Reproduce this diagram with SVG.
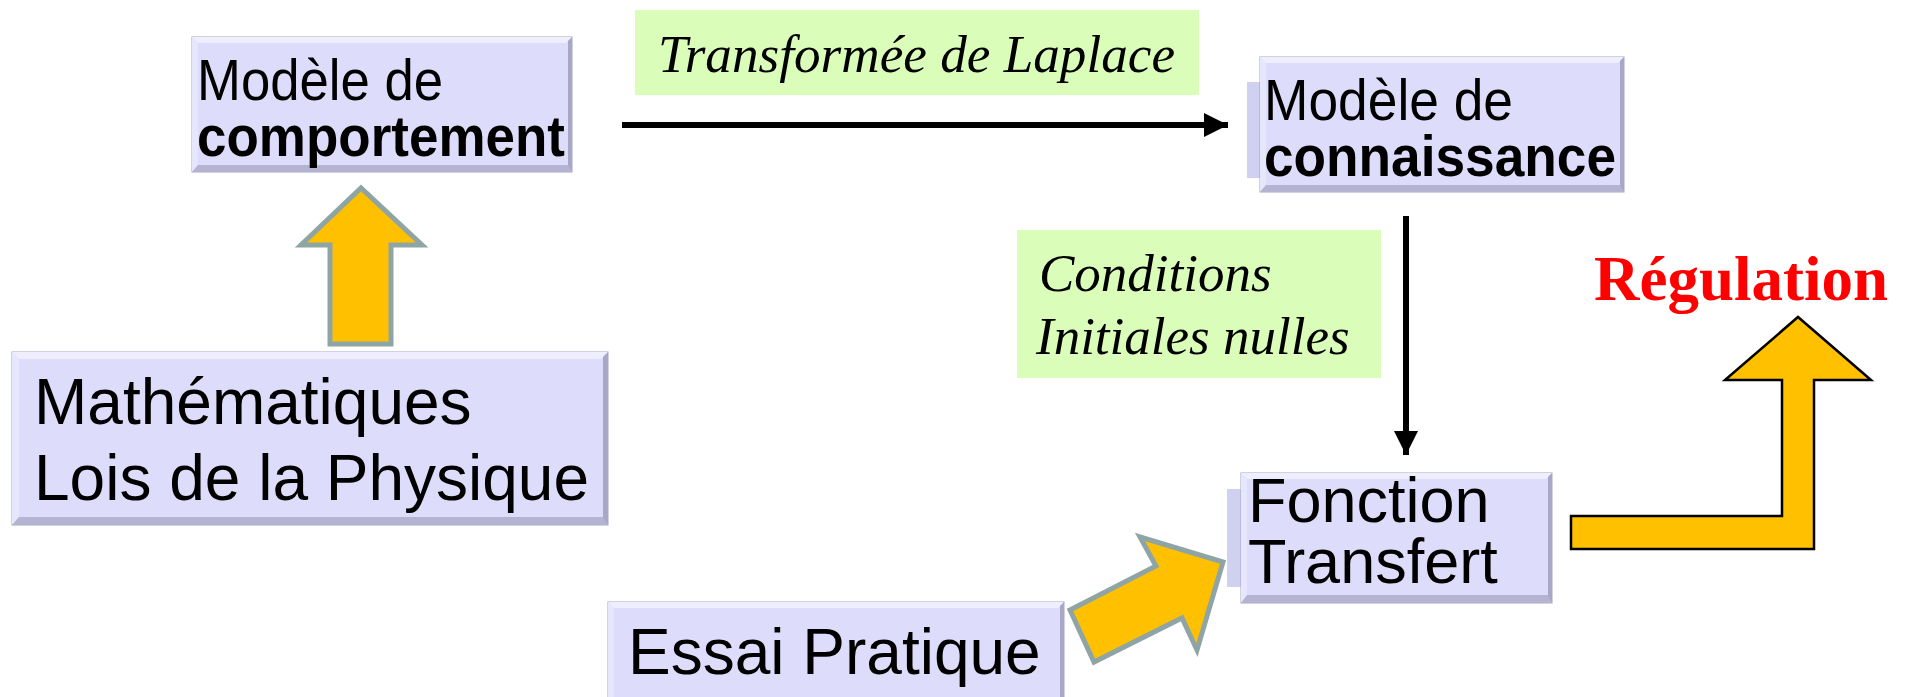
<svg xmlns="http://www.w3.org/2000/svg" width="1905" height="697" viewBox="0 0 1905 697">
<defs>
<marker id="ah" markerWidth="8" markerHeight="8" refX="7" refY="4" orient="auto" markerUnits="userSpaceOnUse" viewBox="0 0 8 8">
<path d="M0,0 L8,4 L0,8 z" fill="#000"/>
</marker>
<marker id="ahb" viewBox="0 0 24 24" refX="24" refY="12" markerWidth="24" markerHeight="24" orient="auto" markerUnits="userSpaceOnUse">
<path d="M0,0 L24,12 L0,24 z" fill="#000"/>
</marker>
</defs>
<style>
.box{fill:#DDDDFB;stroke:#A4A4C0;stroke-width:1}
.bt{fill:#EEEEFE}
.bl{fill:#E6E6FC}
.br{fill:#A8A8C6}
.bb{fill:#B4B4D2}
.strip{fill:#D0D0F0}
.lbl{fill:#DAFDB9}
.sans{font-family:"Liberation Sans",Arial,sans-serif;fill:#000}
.serif{font-family:"Liberation Serif","Times New Roman",serif;fill:#000}
.fat{fill:#FFC000;stroke:#8FA5A5;stroke-width:5;stroke-linejoin:miter}
.fatb{fill:#FFC000;stroke:#000;stroke-width:2.5;stroke-linejoin:miter}
.conn{stroke:#000;stroke-width:6;fill:none}
</style>
<rect width="1905" height="697" fill="#fff"/>

<g id="connectors">
<line class="conn" x1="622" y1="125" x2="1228" y2="125" marker-end="url(#ahb)"/>
<line class="conn" x1="1406" y1="216" x2="1406" y2="455" marker-end="url(#ahb)"/>
<polygon class="fat" points="330,344 330,245 301,245 361,188 422,245 391,245 391,344"/>
<polygon class="fat" points="1070,610 1156,566 1140,537 1223,562 1197,650 1182,618 1094,662"/>
<polygon class="fatb" points="1571,516 1782,516 1782,380 1725,380 1798,317 1871,380 1814,380 1814,549 1571,549"/>
</g>

<g id="label-laplace">
<rect class="lbl" x="635" y="10" width="564" height="85"/>
<text class="serif" x="658" y="72" font-size="53" font-style="italic" textLength="517" lengthAdjust="spacingAndGlyphs">Transformée de Laplace</text>
</g>

<g id="label-conditions">
<rect class="lbl" x="1017" y="230" width="364" height="148"/>
<text class="serif" x="1039" y="291" font-size="53" font-style="italic">Conditions</text>
<text class="serif" x="1036" y="354" font-size="53" font-style="italic">Initiales nulles</text>
</g>

<g id="node-comportement">
<rect class="box" x="192" y="37" width="380" height="135"/>
<polygon class="bt" points="192,37 572,37 566,43 198,43"/>
<polygon class="bl" points="192,37 198,43 198,164 192,172"/>
<polygon class="br" points="572,37 572,172 568,168 568,41"/>
<polygon class="bb" points="192,172 572,172 568,165 198,165"/>
<text class="sans" x="197" y="100" font-size="58" textLength="246" lengthAdjust="spacingAndGlyphs">Modèle de</text>
<text class="sans" x="197" y="156" font-size="58" font-weight="bold" textLength="368" lengthAdjust="spacingAndGlyphs">comportement</text>
</g>

<g id="node-connaissance">
<rect class="strip" x="1247" y="82" width="14" height="96"/>
<rect class="box" x="1260" y="57" width="364" height="135"/>
<polygon class="bt" points="1260,57 1624,57 1618,63 1266,63"/>
<polygon class="bl" points="1260,57 1266,63 1266,184 1260,192"/>
<polygon class="br" points="1624,57 1624,192 1620,188 1620,61"/>
<polygon class="bb" points="1260,192 1624,192 1620,185 1266,185"/>
<text class="sans" x="1264" y="120" font-size="58" textLength="249" lengthAdjust="spacingAndGlyphs">Modèle de</text>
<text class="sans" x="1264" y="176" font-size="58" font-weight="bold" textLength="352" lengthAdjust="spacingAndGlyphs">connaissance</text>
</g>

<g id="node-maths">
<rect class="box" x="12" y="352" width="596" height="173"/>
<polygon class="bt" points="12,352 608,352 601,359 19,359"/>
<polygon class="bl" points="12,352 19,359 19,517 12,525"/>
<polygon class="br" points="608,352 608,525 603,520 603,357"/>
<polygon class="bb" points="12,525 608,525 603,517 19,517"/>
<text class="sans" x="34" y="424" font-size="64">Mathématiques</text>
<text class="sans" x="34" y="500" font-size="64">Lois de la Physique</text>
</g>

<g id="node-fonction">
<rect class="strip" x="1227" y="489" width="15" height="98"/>
<rect class="box" x="1241" y="473" width="311" height="130"/>
<polygon class="bt" points="1241,473 1552,473 1546,479 1247,479"/>
<polygon class="bl" points="1241,473 1247,479 1247,595 1241,603"/>
<polygon class="br" points="1552,473 1552,603 1548,599 1548,477"/>
<polygon class="bb" points="1241,603 1552,603 1548,595 1247,595"/>
<text class="sans" x="1248" y="522" font-size="63">Fonction</text>
<text class="sans" x="1248" y="583" font-size="63">Transfert</text>
</g>

<g id="node-essai">
<rect class="box" x="608" y="602" width="456" height="100"/>
<polygon class="bt" points="608,602 1064,602 1058,608 614,608"/>
<polygon class="bl" points="608,602 614,608 614,697 608,697"/>
<polygon class="br" points="1064,602 1064,697 1060,697 1060,606"/>
<text class="sans" x="628" y="674" font-size="64">Essai Pratique</text>
</g>

<g id="label-regulation">
<text class="serif" x="1594" y="300" font-size="63" font-weight="bold" fill="#FF0000" style="fill:#FF0000">Régulation</text>
</g>
</svg>
